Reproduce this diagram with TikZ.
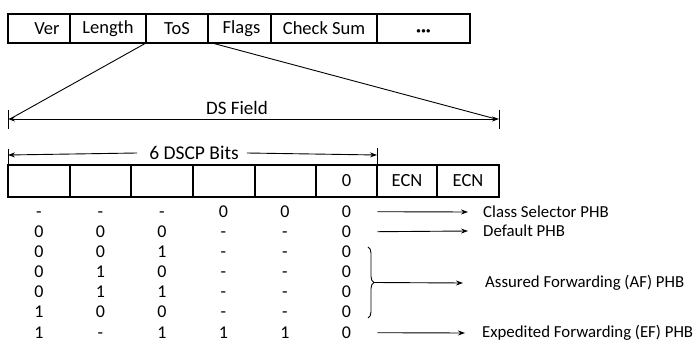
\documentclass[tikz,border=0pt]{standalone}
\usepackage{fontspec}
\setmainfont{Carlito}
\usetikzlibrary{arrows.meta,decorations.pathreplacing}
\begin{document}
\begin{tikzpicture}[x=1pt,y=-1pt,
  cell/.style={draw, line width=1.1pt, inner sep=0pt, outer sep=0pt, minimum height=29pt, font=\fontsize{18.5}{20}\selectfont},
  bitcell/.style={draw, line width=1.1pt, inner sep=0pt, outer sep=0pt, minimum height=32pt, font=\fontsize{18.5}{20}\selectfont},
  val/.style={anchor=base, inner sep=0pt, font=\fontsize{18}{18}\selectfont},
  lbl/.style={anchor=west, inner sep=0pt, font=\fontsize{16.8}{18}\selectfont},
  thin/.style={line width=0.9pt},
  arr/.style={line width=0.9pt, -{Stealth[length=7pt,width=5pt]}},
  dblarr/.style={line width=0.9pt, {Stealth[length=7pt,width=5pt]}-{Stealth[length=7pt,width=5pt]}},
]
\useasboundingbox (0,0) rectangle (699,344);

% header fields
\node[cell, minimum width=62pt]  (ver)   at (39,28.5)    {\hspace*{16pt}Ver};
\node[cell, minimum width=76pt]  (len)   at (108,28.5)   {Length};
\node[cell, minimum width=62pt]  (tos)   at (177,28.5)   {ToS};
\node[cell, minimum width=63pt]  (flags) at (239.5,28.5) {\hspace*{4pt}Flags};
\node[cell, minimum width=106pt] (cks)   at (324,28.5)   {Check Sum};
\node[cell, minimum width=93pt]  (etc)   at (423.5,28.5) {\textbf{\raisebox{-8.5pt}[0pt][0pt]{···}}};

% DS field
\coordinate (dsL) at (8,119);
\coordinate (dsR) at (499,119);
\draw[dblarr] (dsL) -- (dsR);
\draw[thin] (dsL) ++(0,-9) -- ++(0,19);
\draw[thin] (dsR) ++(0,-9) -- ++(0,19);
\node[inner sep=0pt, font=\fontsize{19}{20}\selectfont] (dsf) at (237,108) {DS Field};
\draw[thin] (tos.south west) -- ([xshift=2pt]dsL);
\draw[thin] ([xshift=4pt]tos.south east) -- ([xshift=-3pt]dsR);

% DS byte cells
\node[bitcell, minimum width=62pt] (b1) at (39,181)    {};
\node[bitcell, minimum width=61pt] (b2) at (100.5,181) {};
\node[bitcell, minimum width=62pt] (b3) at (162,181)   {};
\node[bitcell, minimum width=62pt] (b4) at (224,181)   {};
\node[bitcell, minimum width=61pt] (b5) at (285.5,181) {};
\node[bitcell, minimum width=61pt] (b6) at (346.5,181) {0};
\node[bitcell, minimum width=60pt] (e1) at (407,181)   {ECN};
\node[bitcell, minimum width=62pt] (e2) at (468,181)   {ECN};

% 6 DSCP bits
\coordinate (bL) at (8,155);
\coordinate (bR) at (377,155);
\node[inner sep=0pt, font=\fontsize{19.5}{20}\selectfont] (dscp) at (194,153) {6 DSCP Bits};
\draw[arr] ([xshift=-12pt]dscp.west) -- (bL);
\draw[arr] ([xshift=8pt]dscp.east) -- (bR);
\draw[thin] (bL) ++(0,-6) -- (b1.north west);
\draw[thin] (bR) ++(0,-7) -- (b6.north east);

% table of code points
\foreach \y/\a/\b/\c/\d/\e/\f [count=\i] in {
  212/-/-/-/0/0/0,
  232/0/0/0/-/-/0,
  252/0/0/1/-/-/0,
  272/0/1/0/-/-/0,
  292/0/1/1/-/-/0,
  312/1/0/0/-/-/0,
  333/1/-/1/1/1/0} {
  \foreach \v [count=\j] in {\a,\b,\c,\d,\e,\f} {
    \node[val] (r\i-\j) at ({39+61.5*(\j-1)},\y+5.5) {\v};
  }
}

% PHB labels
\node[lbl] (cs) at (483,212) {Class Selector PHB};
\node[lbl] (dp) at (483,231) {Default PHB};
\node[lbl] (af) at (485,283) {Assured Forwarding (AF) PHB};
\node[lbl] (ef) at (482,333) {Expedited Forwarding (EF) PHB};

\draw[arr] ([xshift=26pt]r1-6.east) -- ([xshift=-15pt]cs.west);
\draw[arr] ([xshift=26pt]r2-6.east) -- ([xshift=-15pt]dp.west);
\draw[arr] ([xshift=26pt]r7-6.east) -- ([xshift=-17pt]ef.west);

% brace for AF
\coordinate (bt) at (368,247);
\coordinate (bb) at (368,318);
\coordinate (btip) at (374,282.5);
\draw[thin, decorate, decoration={brace, amplitude=6pt}] (bt) -- (bb);
\draw[arr] (btip) -- ([xshift=-22pt]af.west);
\end{tikzpicture}
\end{document}
